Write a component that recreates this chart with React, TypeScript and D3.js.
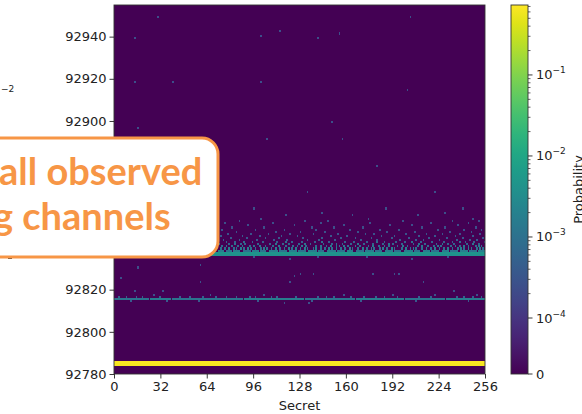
import * as d3 from "d3";
import { useRef, useEffect } from "react";

// axis ticks
const secretTicks = [0, 32, 64, 96, 128, 160, 192, 224, 256];
const latencyTicks = [92780, 92800, 92820, 92840, 92860, 92880, 92900, 92920, 92940];
const probMajor = [1e-4, 1e-3, 1e-2, 1e-1];
const probExp = [-4, -3, -2, -1];

const secrets = d3.range(256);

// rows that are filled across every secret
const fullRows = [
  { latency: 92784, p: 0.62 },
  { latency: 92785, p: 0.7 },
  { latency: 92836, p: 4.2e-3 },
  { latency: 92837, p: 4.6e-3 },
];

// patchy rows, given as [from, to] secret ranges
const segmentRows = [
  { latency: 92815, p: 1.1e-3, ranges: [[0, 23], [40, 88], [132, 165], [201, 227]] },
  { latency: 92815, p: 1.6e-3, ranges: [[25, 38], [90, 130], [167, 199], [229, 255]] },
  { latency: 92838, p: 1.8e-3, ranges: [[72, 75], [82, 86], [95, 99], [107, 112], [121, 125], [134, 139], [147, 152], [161, 164], [173, 178], [187, 191], [200, 205], [213, 217], [226, 230], [239, 243], [251, 255]] },
  { latency: 92838, p: 1.1e-3, ranges: [[77, 80], [89, 93], [101, 104], [114, 118], [127, 131], [141, 144], [154, 158], [167, 171], [180, 184], [193, 197], [207, 210], [219, 223], [232, 236], [245, 249]] },
];

// scattered cells: latency row -> secrets, probability of each cell
const dotRows = [
  { latency: 92949, p: 2.5e-4, secrets: [30, 204] },
  { latency: 92942, p: 2.5e-4, secrets: [114] },
  { latency: 92941, p: 2.5e-4, secrets: [155] },
  { latency: 92940, p: 2.5e-4, secrets: [101] },
  { latency: 92939, p: 2.5e-4, secrets: [14, 140] },
  { latency: 92918, p: 2.5e-4, secrets: [14, 40, 101] },
  { latency: 92914, p: 2.5e-4, secrets: [202] },
  { latency: 92899, p: 2.5e-4, secrets: [150] },
  { latency: 92896, p: 2.5e-4, secrets: [16] },
  { latency: 92891, p: 2.5e-4, secrets: [105, 157] },
  { latency: 92878, p: 2.5e-4, secrets: [181] },
  { latency: 92866, p: 2.5e-4, secrets: [133, 221] },
  { latency: 92858, p: 2.5e-4, secrets: [96, 187, 240] },
  { latency: 92856, p: 2.5e-4, secrets: [143, 228] },
  { latency: 92855, p: 2.5e-4, secrets: [118, 164, 209] },
  { latency: 92853, p: 2.5e-4, secrets: [101, 175, 247] },
  { latency: 92852, p: 2.5e-4, secrets: [86, 131, 147, 199, 233, 251] },
  { latency: 92851, p: 2.5e-4, secrets: [76, 109, 142, 176, 218, 244] },
  { latency: 92850, p: 2.5e-4, secrets: [92, 124, 158, 190, 205, 237] },
  { latency: 92849, p: 2.5e-4, secrets: [81, 103, 136, 151, 171, 212, 228, 249] },
  { latency: 92848, p: 3e-4, secrets: [74, 97, 117, 139, 162, 183, 196, 223, 241, 253] },
  { latency: 92847, p: 3e-4, secrets: [84, 111, 128, 145, 168, 188, 207, 231, 246] },
  { latency: 92846, p: 3e-4, secrets: [78, 94, 106, 121, 137, 154, 173, 179, 201, 215, 226, 238, 252] },
  { latency: 92845, p: 3.5e-4, secrets: [73, 88, 100, 115, 126, 149, 160, 184, 193, 210, 221, 235, 247] },
  { latency: 92844, p: 3.5e-4, secrets: [80, 91, 104, 113, 130, 143, 156, 166, 177, 191, 203, 217, 229, 240, 254] },
  { latency: 92843, p: 4e-4, secrets: [75, 86, 98, 110, 119, 133, 141, 152, 170, 181, 197, 208, 213, 224, 236, 245, 250] },
  { latency: 92842, p: 5e-4, secrets: [77, 83, 95, 102, 112, 122, 129, 138, 148, 159, 165, 174, 186, 194, 200, 211, 219, 227, 233, 242, 248, 255] },
  { latency: 92842, p: 9e-4, secrets: [89, 118, 143, 181, 205, 238] },
  { latency: 92841, p: 6e-4, secrets: [72, 79, 87, 90, 99, 107, 116, 120, 127, 135, 144, 150, 157, 163, 172, 178, 185, 192, 198, 206, 214, 222, 230, 234, 243, 251] },
  { latency: 92841, p: 1.2e-3, secrets: [83, 111, 131, 153, 168, 189, 210, 226, 247] },
  { latency: 92840, p: 8e-4, secrets: [74, 81, 85, 93, 96, 104, 109, 118, 123, 126, 132, 139, 146, 153, 155, 161, 169, 175, 182, 189, 195, 202, 209, 216, 220, 225, 232, 238, 244, 249, 253] },
  { latency: 92840, p: 1.4e-3, secrets: [77, 88, 100, 113, 129, 142, 149, 158, 166, 178, 186, 199, 212, 223, 235, 241, 251] },
  { latency: 92839, p: 1e-3, secrets: [73, 76, 82, 84, 89, 94, 97, 101, 105, 108, 114, 117, 122, 128, 133, 137, 142, 145, 150, 156, 159, 164, 168, 174, 179, 183, 188, 193, 198, 204, 208, 212, 218, 224, 227, 233, 237, 241, 246, 250, 254] },
  { latency: 92839, p: 1.8e-3, secrets: [79, 87, 92, 103, 111, 120, 125, 131, 139, 148, 153, 162, 171, 177, 185, 191, 201, 206, 215, 221, 230, 239, 244, 252] },
  { latency: 92835, p: 3e-4, secrets: [96, 140, 174, 230] },
  { latency: 92834, p: 2.5e-4, secrets: [121, 205] },
  { latency: 92831, p: 2.5e-4, secrets: [59] },
  { latency: 92830, p: 2.5e-4, secrets: [16] },
  { latency: 92827, p: 2.5e-4, secrets: [128, 137, 178, 193, 196] },
  { latency: 92826, p: 2.5e-4, secrets: [124] },
  { latency: 92825, p: 2.5e-4, secrets: [4] },
  { latency: 92823, p: 2.5e-4, secrets: [59, 121, 213] },
  { latency: 92819, p: 2.5e-4, secrets: [14, 33, 234] },
  { latency: 92817, p: 3e-4, secrets: [27, 66, 103, 158, 192, 221, 250] },
  { latency: 92816, p: 5e-4, secrets: [3, 8, 15, 19, 31, 45, 52, 61, 70, 77, 84, 93, 97, 108, 112, 125, 140, 146, 151, 163, 172, 180, 186, 195, 210, 218, 236, 241, 247, 253] },
  { latency: 92814, p: 4e-4, secrets: [11, 36, 58, 99, 136, 170, 208, 244] },
  { latency: 92813, p: 2.5e-4, secrets: [117, 134] },
];

const W = 582;
const H = 414;
const left = 114;
const right = 485;
const top = 5;
const bottom = 374;
const cbLeft = 511;
const cbRight = 528;
const linThresh = 1e-4;
const probMax = 0.73;
const orange = "#F79646";

export default function App() {
  const gx = useRef<SVGGElement>(null);
  const gy = useRef<SVGGElement>(null);

  const x = d3.scaleLinear([0, 256], [left, right]);
  const y = d3.scaleLinear([92780, 92955], [bottom, top]);

  // symlog-like colour bar: linear below 1e-4, log above
  const cbLin = d3.scaleLinear([0, linThresh], [bottom, 318]);
  const cbLog = d3.scaleLog([linThresh, probMax], [318, top]);
  const cbY = (v: number) => (v <= linThresh ? cbLin(v) : cbLog(v));
  const color = (v: number) => d3.interpolateViridis((bottom - cbY(v)) / (bottom - top));

  const cells: { s: number; l: number; p: number }[] = [];
  fullRows.forEach((r) => secrets.forEach((s) => cells.push({ s, l: r.latency, p: r.p })));
  segmentRows.forEach((r) =>
    r.ranges.forEach(([a, b]) => d3.range(a, b + 1).forEach((s) => cells.push({ s, l: r.latency, p: r.p })))
  );
  dotRows.forEach((r) => r.secrets.forEach((s) => cells.push({ s, l: r.latency, p: r.p })));

  const minor: number[] = [];
  probMajor.forEach((d) => d3.range(2, 10).forEach((k) => k * d <= probMax && minor.push(k * d)));

  useEffect(() => {
    const gX = d3.select(gx.current);
    gX.call(d3.axisBottom(x).tickValues(secretTicks).tickSize(4.5).tickPadding(3).tickFormat(d3.format("d")));
    gX.select(".domain").remove();
    gX.selectAll("text").attr("font-size", 13).attr("font-family", "DejaVu Sans").attr("fill", "#222");
    gX.selectAll("line").attr("stroke", "#222").attr("stroke-width", 0.9);

    const gY = d3.select(gy.current);
    gY.call(d3.axisLeft(y).tickValues(latencyTicks).tickSize(4.5).tickPadding(3).tickFormat(d3.format("d")));
    gY.select(".domain").remove();
    gY.selectAll("text").attr("font-size", 13).attr("font-family", "DejaVu Sans").attr("fill", "#222");
    gY.selectAll("line").attr("stroke", "#222").attr("stroke-width", 0.9);
  }, [x, y]);

  const stops = d3.range(0, 1.0001, 0.05);

  return (
    <svg width={W} height={H} style={{ position: "absolute", left: 0, top: 0 }} fontFamily="DejaVu Sans">
      <defs>
        <linearGradient id="cb" x1="0" y1="1" x2="0" y2="0">
          {stops.map((t) => (
            <stop key={t} offset={t} stopColor={d3.interpolateViridis(t)} />
          ))}
        </linearGradient>
      </defs>
      <rect width={W} height={H} fill="#fff" />

      {/* heatmap */}
      <rect x={left} y={top} width={right - left} height={bottom - top} fill={color(0)} />
      <g shapeRendering="crispEdges">
        {cells.map((c, i) => (
          <rect
            key={i}
            x={x(c.s)}
            y={y(c.l + 1)}
            width={x(c.s + 1) - x(c.s) + 0.3}
            height={y(c.l) - y(c.l + 1)}
            fill={color(c.p)}
          />
        ))}
      </g>
      <rect x={left} y={top} width={right - left} height={bottom - top} fill="none" stroke="#333" strokeWidth={0.9} />
      <g ref={gx} transform={`translate(0,${bottom})`} />
      <g ref={gy} transform={`translate(${left},0)`} />
      <text x={(left + right) / 2} y={410} textAnchor="middle" fontSize={13} fill="#222">
        Secret
      </text>

      {/* colour bar */}
      <rect x={cbLeft} y={top} width={cbRight - cbLeft} height={bottom - top} fill="url(#cb)" stroke="#333" strokeWidth={0.9} />
      {minor.map((v) => (
        <line key={v} x1={cbRight} x2={cbRight + 2.5} y1={cbY(v)} y2={cbY(v)} stroke="#222" strokeWidth={0.7} />
      ))}
      {[0, ...probMajor].map((v) => (
        <line key={"M" + v} x1={cbRight} x2={cbRight + 4.5} y1={cbY(v)} y2={cbY(v)} stroke="#222" strokeWidth={0.9} />
      ))}
      <text x={cbRight + 8} y={cbY(0) + 4.5} fontSize={13} fill="#222">
        0
      </text>
      {probMajor.map((v, i) => (
        <text key={v} x={cbRight + 8} y={cbY(v) + 4.5} fontSize={13} fill="#222">
          10
          <tspan dy={-6} fontSize={9}>
            {"\u2212" + -probExp[i]}
          </tspan>
        </text>
      ))}
      <text transform={`translate(583,${(top + bottom) / 2}) rotate(-90)`} textAnchor="middle" fontSize={13} fill="#222">
        Probability
      </text>

      {/* fragments of neighbouring figure */}
      <text x={1} y={92} fontSize={9} fill="#222">
        {"\u22122"}
      </text>
      <line x1={8} x2={12} y1={258.5} y2={258.5} stroke="#222" strokeWidth={0.9} />

      {/* callout */}
      <rect x={-30} y={138} width={248} height={119} rx={16} fill="#fff" stroke={orange} strokeWidth={3} />
      <text x={-1} y={185} fontFamily="Lato" fontWeight="bold" fontSize={38} fill={orange}>
        all observed
      </text>
      <text x={-7} y={230} fontFamily="Lato" fontWeight="bold" fontSize={38} fill={orange}>
        g channels
      </text>
    </svg>
  );
}
